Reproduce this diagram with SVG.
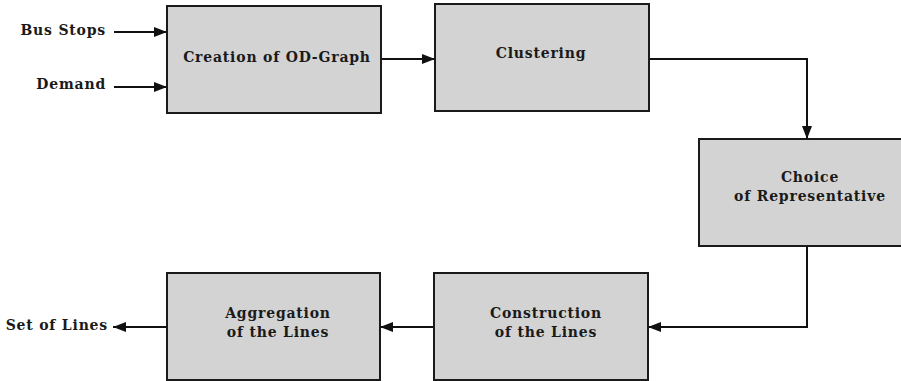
<svg xmlns="http://www.w3.org/2000/svg" width="901" height="381" viewBox="0 0 901 381">
<style>
.box{fill:#d3d3d3;stroke:#1a1a1a;stroke-width:2}
.t{font-family:"DejaVu Serif","Liberation Serif",serif;font-weight:bold;font-size:14px;letter-spacing:0.8px;fill:#1a1a1a}
.c{text-anchor:middle}
.e{text-anchor:end}
.ln{fill:none;stroke:#111;stroke-width:2;marker-end:url(#ah)}
</style>
<defs>
<marker id="ah" markerWidth="14" markerHeight="10" refX="13" refY="5" orient="auto" markerUnits="userSpaceOnUse">
<path d="M0,0 L13,5 L0,10 Z" fill="#111"/>
</marker>
</defs>
<rect width="901" height="381" fill="#fff"/>
<g id="connectors">
<path class="ln" d="M114,32 H167"/>
<path class="ln" d="M114,87 H167"/>
<path class="ln" d="M381,59 H435"/>
<path class="ln" d="M649,59 H807 V139"/>
<path class="ln" d="M807,246 V327 H648"/>
<path class="ln" d="M434,327 H380"/>
<path class="ln" d="M167,327 H113"/>
</g>
<g id="bus-stops"><text class="t e" x="106" y="35">Bus Stops</text></g>
<g id="demand"><text class="t e" x="106" y="89">Demand</text></g>
<g id="creation">
<rect class="box" x="167" y="6" width="214" height="107"/>
<text class="t c" x="277" y="62">Creation of OD-Graph</text>
</g>
<g id="clustering">
<rect class="box" x="435" y="4" width="214" height="107"/>
<text class="t c" x="541" y="58">Clustering</text>
</g>
<g id="choice">
<rect class="box" x="699" y="139" width="214" height="107"/>
<text class="t c" x="810" y="182">Choice</text>
<text class="t c" x="810" y="201">of Representative</text>
</g>
<g id="construction">
<rect class="box" x="434" y="273" width="214" height="107"/>
<text class="t c" x="546" y="318">Construction</text>
<text class="t c" x="546" y="337">of the Lines</text>
</g>
<g id="aggregation">
<rect class="box" x="167" y="273" width="213" height="107"/>
<text class="t c" x="278" y="318">Aggregation</text>
<text class="t c" x="278" y="337">of the Lines</text>
</g>
<g id="set-of-lines"><text class="t e" x="108" y="330">Set of Lines</text></g>
</svg>
